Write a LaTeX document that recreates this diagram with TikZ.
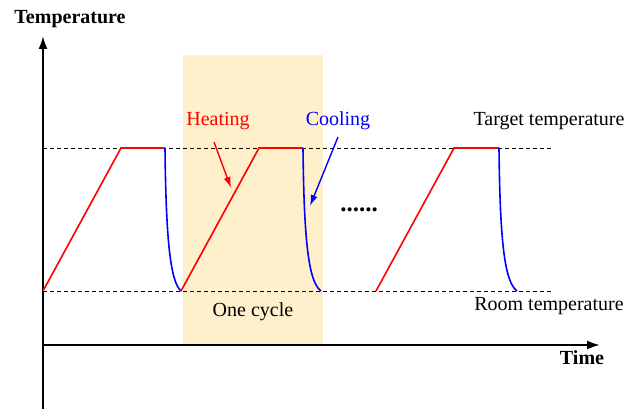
\documentclass[tikz,border=0pt]{standalone}
\usepackage{fontspec}
\setmainfont{Liberation Serif}
\usetikzlibrary{arrows.meta}
\definecolor{bandfill}{RGB}{255,240,204}
\definecolor{heat}{RGB}{255,0,0}
\definecolor{cool}{RGB}{0,0,255}
\tikzset{
  lbl/.style={font=\fontsize{20}{24}\selectfont, inner sep=0pt},
  axis/.style={line width=2pt, -{Latex[length=13pt,width=9pt]}},
  guide/.style={dashed, dash pattern=on 4pt off 3pt, line width=0.9pt},
  heatline/.style={heat, line width=1.6pt},
  coolline/.style={cool, line width=1.6pt},
  callout/.style={line width=1.4pt, -{Latex[length=11pt,width=7pt]}}
}
\begin{document}
\begin{tikzpicture}[x=1pt,y=-1pt]
\useasboundingbox (0,0) rectangle (638,409);
% cycle band
\fill[bandfill] (183,55) rectangle (323,345);
% guide lines
\coordinate (tl) at (43,148); \coordinate (tr) at (553,148);
\coordinate (rl) at (43,291); \coordinate (rr) at (553,291);
\draw[guide] (tl) -- (tr);
\draw[guide] (rl) -- (rr);
% axes
\coordinate (o) at (43,345);
\coordinate (ybot) at (43,409);
\coordinate (ytop) at (43,36);
\coordinate (xend) at (600,345);
\draw[axis] (ybot) -- (ytop);
\draw[axis] (o) -- (xend);
% cycle 1
\coordinate (a0) at (43,291); \coordinate (a1) at (121,148); \coordinate (a2) at (165,148); \coordinate (a3) at (181,291);
\draw[heatline] (a0) -- (a1) -- (a2);
\draw[coolline] (a2) .. controls (166,245) and (171,282) .. (a3);
% cycle 2
\coordinate (b1) at (259,148); \coordinate (b2) at (303,148); \coordinate (b3) at (321,291);
\draw[heatline] (a3) -- (b1) -- (b2);
\draw[coolline] (b2) .. controls (304,245) and (309,282) .. (b3);
% cycle 3
\coordinate (c0) at (376,291); \coordinate (c1) at (454,148); \coordinate (c2) at (499,148); \coordinate (c3) at (517,291);
\draw[heatline] (c0) -- (c1) -- (c2);
\draw[coolline] (c2) .. controls (500,245) and (505,282) .. (c3);
% labels
\node[lbl, anchor=south] (ylab) at (70,28) {\textbf{Temperature}};
\node[lbl, anchor=north] (xlab) at (582,350) {\textbf{Time}};
\node[lbl] (target) at (549,121) {Target temperature};
\node[lbl] (room) at (549,306) {Room temperature};
\node[lbl] (cycle) at (253,312) {One cycle};
\node[lbl, text=heat] (heating) at (218,121) {Heating};
\node[lbl, text=cool] (cooling) at (338,121) {Cooling};
\node[lbl, font=\fontsize{25}{28}\selectfont\bfseries, anchor=base] (dots) at (359,212) {......};
% callouts
\coordinate (hp) at (231,188);
\coordinate (cp) at (310,206);
\draw[callout, heat] (214,142) -- (hp);
\draw[callout, cool] (338,137) -- (cp);
\end{tikzpicture}
\end{document}
